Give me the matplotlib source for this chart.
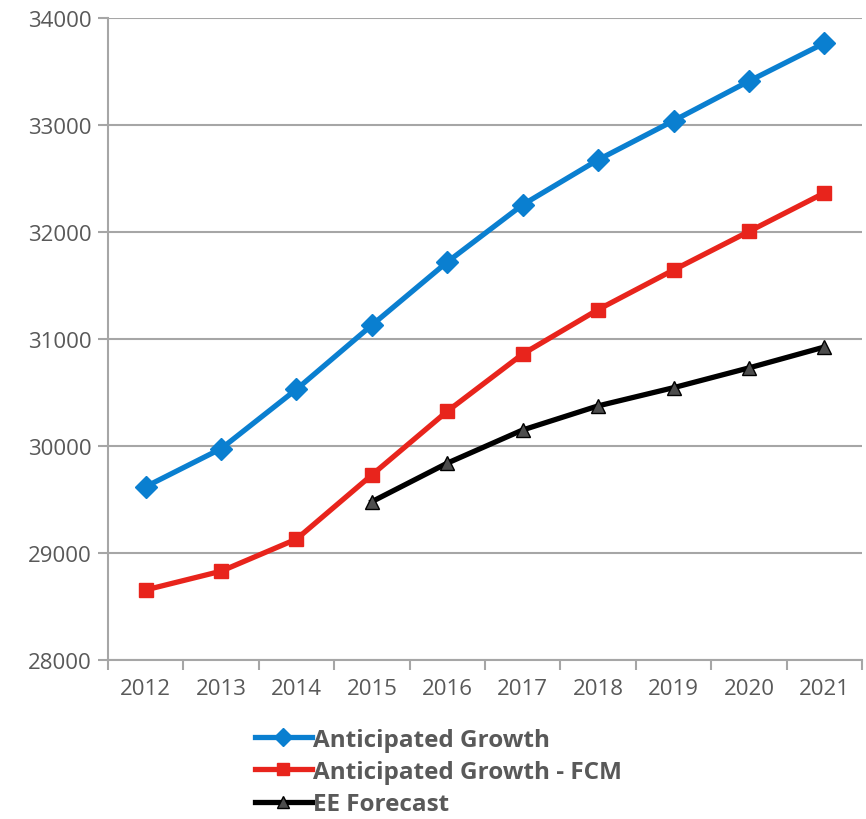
import matplotlib.pyplot as plt

years = ['2012', '2013', '2014', '2015', '2016', '2017', '2018', '2019', '2020', '2021']
growth = [29620, 29975, 30530, 31130, 31720, 32255, 32675, 33040, 33410, 33765]
growth_fcm = [28655, 28830, 29130, 29730, 30325, 30860, 31275, 31645, 32005, 32365]
ee_years = years[3:]
ee_forecast = [29480, 29840, 30150, 30375, 30545, 30730, 30925]

plt.rcParams['font.family'] = ['Open Sans', 'DejaVu Sans']
grey = '#595959'

fig = plt.figure(figsize=(8.66, 8.2), dpi=100)
ax = fig.add_axes([0.1247, 0.1939, 0.8707, 0.7829])

x = list(range(len(years)))
ax.plot(x, growth, color='#0a7fd0', lw=3.8, marker='D', ms=11,
        label='Anticipated Growth', zorder=3)
ax.plot(x, growth_fcm, color='#e8241c', lw=3.8, marker='s', ms=10,
        label='Anticipated Growth - FCM', zorder=3)
ax.plot(x[3:], ee_forecast, color='black', lw=3.8, marker='^', ms=10,
        markerfacecolor='#4d4d4d', markeredgecolor='black', mew=1,
        label='EE Forecast', zorder=3)

ax.set_xlim(-0.5, len(years) - 0.5)
ax.set_ylim(28000, 34000)
ax.set_yticks(range(28000, 34001, 1000))
ax.set_xticks(x)
ax.set_xticklabels(years)
ax.set_xticks([i - 0.5 for i in range(len(years) + 1)], minor=True)
ax.tick_params(axis='x', which='major', length=0, pad=13, labelsize=16, labelcolor=grey)
ax.tick_params(axis='x', which='minor', length=7, width=1.5, color='#a6a6a6', direction='out')
ax.tick_params(axis='y', length=7, width=1.5, color='#a6a6a6', pad=5, labelsize=16, labelcolor=grey)

ax.grid(axis='y', color='#a6a6a6', lw=1.5)
ax.set_axisbelow(True)
for s in ['top', 'right']:
    ax.spines[s].set_visible(False)
for s in ['left', 'bottom']:
    ax.spines[s].set_color('#a6a6a6')
    ax.spines[s].set_linewidth(1.5)

leg = fig.legend(loc='upper left', bbox_to_anchor=(0.294, 0.111), frameon=False,
                 borderpad=0, borderaxespad=0,
                 handlelength=2.35, handletextpad=0.05, labelspacing=0.33,
                 markerscale=0.8, prop={'weight': 'bold', 'size': 17.5})
for t in leg.get_texts():
    t.set_color(grey)

fig.savefig('out.png', dpi=100)
